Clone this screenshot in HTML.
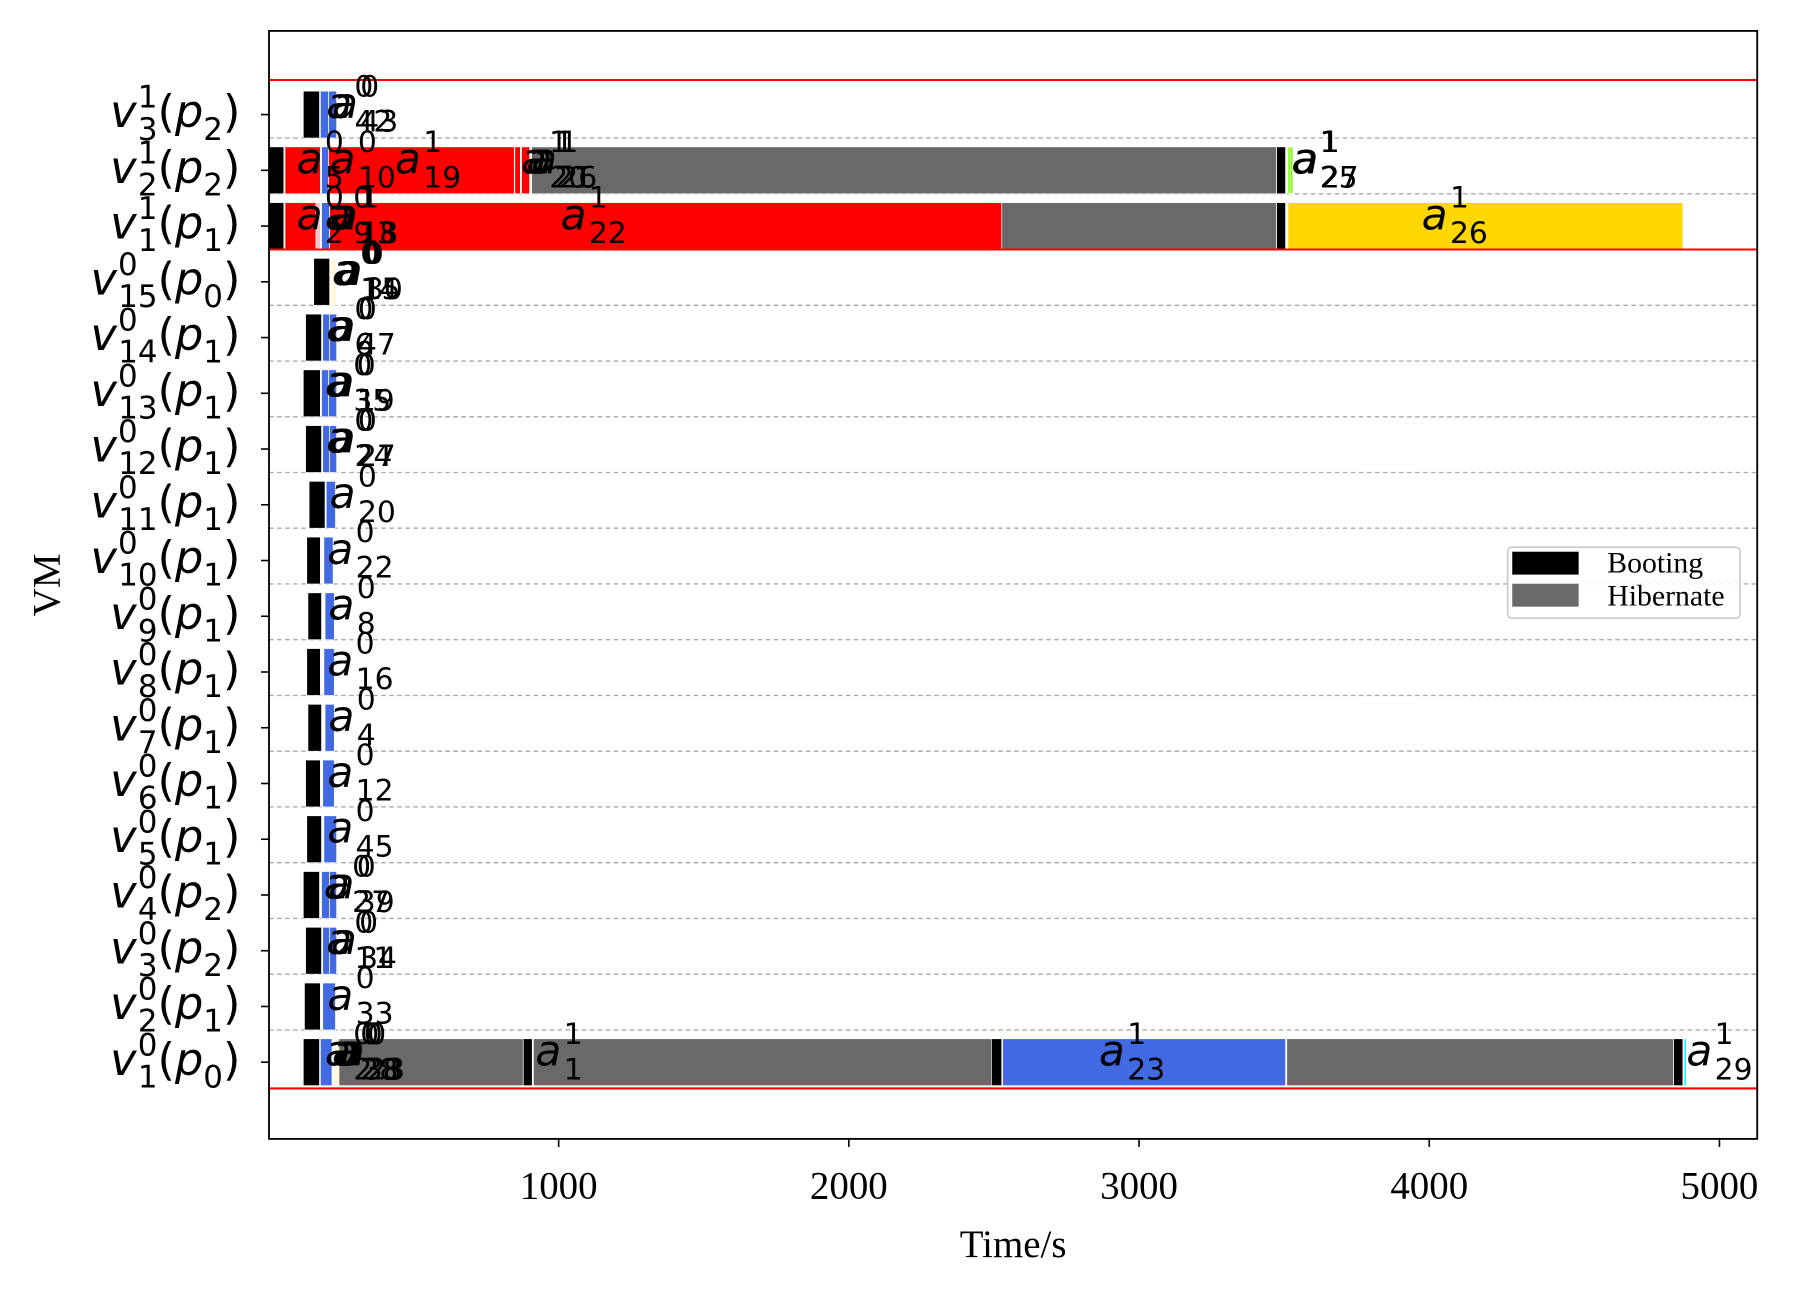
<!DOCTYPE html>
<html><head><meta charset="utf-8"><style>
html,body{margin:0;padding:0;background:#fff;}
svg{display:block;}
</style></head><body>
<svg id="chart" xmlns="http://www.w3.org/2000/svg" width="1795" height="1298" viewBox="0 0 1568 1134" preserveAspectRatio="none"></svg>
<script>
// ---- data ----
const vSub = [1,2,3,4,5,6,7,8,9,10,11,12,13,14,15,1,2,3];
const vSup = [0,0,0,0,0,0,0,0,0,0,0,0,0,0,0,1,1,1];
const pSub = [0,1,2,2,1,1,1,1,1,1,1,1,1,1,0,1,2,2];
const xTicks = [1000,2000,3000,4000,5000];

const barRow   = [0,0,0,0,0,0,0,0,0,0,0,
  1,1, 2,2,2, 3,3,3, 4,4, 5,5, 6,6, 7,7, 8,8, 9,9, 10,10, 11,11,11, 12,12,12, 13,13,13,
  14,14,
  15,15,15,15,15,15,15,15,
  16,16,16,16,16,16,16,16,16,16,
  17,17,17];
const barStart = [120,179,223,243,878,913,2491,2530,3509,4842,4878,
  124,187, 128,187,211, 120,183,211, 132,191, 128,187, 136,195, 132,191, 136,195, 132,191, 140,199, 128,187,211, 120,183,207, 128,187,211,
  156,215,
  0,57,164,183,211,2527,3474,3513,
  0,57,183,207,849,872,907,3474,3513,3521,
  120,179,207];
const barEnd   = [176,219,243,878,909,2491,2527,3505,4842,4874,4886,
  179,231, 183,211,235, 176,211,235, 183,235, 179,227, 183,227, 179,227, 183,227, 179,223, 195,231, 183,211,235, 179,207,235, 183,211,235,
  211,235,
  53,164,179,211,2527,3474,3505,4874,
  53,179,207,847,868,900,3474,3505,3521,3530,
  176,207,235];
const barKind  = ['boot','blue','silk','hib','boot','hib','boot','blue','hib','boot','cyan',
  'boot','blue', 'boot','blue','blue', 'boot','blue','blue', 'boot','blue', 'boot','blue', 'boot','blue', 'boot','blue', 'boot','blue', 'boot','blue', 'boot','blue', 'boot','blue','blue', 'boot','blue','blue', 'boot','blue','blue',
  'boot','silk',
  'boot','red','pink','blue','red','hib','boot','gold',
  'boot','red','blue','red','red','red','hib','boot','green','green',
  'boot','blue','blue'];

const lblRow  = [17,17, 16,16,16,16,16,16,16,16, 15,15,15,15,15,15, 14,14,14, 13,13, 12,12, 11,11, 10, 9, 8, 7, 6, 5, 4, 3,3, 2,2, 1, 0,0,0,0,0,0,0];
const lblTime = [199,219, 97,211,436,870,889,905,3525,3529, 97,195,211,219,1007,3974, 219,227,235, 199,211, 195,207, 199,211, 211, 203, 207, 203, 207, 203, 203, 191,207, 199,215, 203, 195,219,231,243,920,2862,4886];
const lblSup  = [0,0, 0,0,1,1,1,1,1,1, 0,0,1,1,1,1, 0,0,0, 0,0, 0,0, 0,0, 0, 0, 0, 0, 0, 0, 0, 0,0, 0,0, 0, 0,0,0,0,1,1,1];
const lblSub  = [42,43, 5,10,19,20,21,26,25,27, 2,9,13,18,22,26, 14,15,30, 6,47, 35,19, 24,27, 20, 22, 8, 16, 4, 12, 45, 27,39, 11,34, 33, 2,28,38,23,1,23,29];

const redLineRows = [-0.47, 14.58, 17.62];

// ---- geometry ----
const L=235, R=1535, T=27, B=995;
const X = t => 234.5 + 0.2535*t;
const Y = r => 928 - r*48.7;
const BH = 41;
const colors = {boot:'#000000',hib:'#696969',red:'#ff0000',blue:'#4169e1',gold:'#ffd700',silk:'#fff8dc',green:'#7cfc00',cyan:'#00ffff',pink:'#ffc0cb'};
const NS='http://www.w3.org/2000/svg';
const svg=document.getElementById('chart');
function mk(tag,attrs,parent){const e=document.createElementNS(NS,tag);for(const k in attrs)e.setAttribute(k,attrs[k]);(parent||svg).appendChild(e);return e;}
const MATH='"DejaVu Sans", sans-serif', SERIF='"Liberation Serif", serif';

// grid dashed lines at bottom of bars
const gGrid=mk('g',{});


for(let r=1;r<vSub.length;r++){
  if(r===15) continue;
  const y=Y(r)+BH/2;
  const ln=mk('line',{x1:L,x2:R,y1:y,y2:y,stroke:'#aaaaaa','stroke-width':1.2,'stroke-dasharray':'4,3'},gGrid);
  
  
}
// bars
const gBars=mk('g',{});


for(let i=0;i<barRow.length;i++){
  const x0=X(barStart[i]), x1=X(barEnd[i]);
  const rc=mk('rect',{x:x0,y:Y(barRow[i])-BH/2,width:Math.max(x1-x0,1),height:BH,fill:colors[barKind[i]],stroke:'#ffffff','stroke-width':0.6},gBars);
  
  
}
// red separator lines
for(const rr of redLineRows){
  const y=Y(rr);
  const ln=mk('line',{x1:L,x2:R,y1:y,y2:y,stroke:'#ff0000','stroke-width':1.8});
  
  
}
// task labels
const gL=mk('g',{});


for(let i=0;i<lblRow.length;i++){
  const y=Y(lblRow[i])+3;
  const t=mk('text',{x:X(lblTime[i]),y:y,'font-family':MATH,'font-size':37,fill:'#000'},gL);
  
  
  t.innerHTML='<tspan font-style="italic">a</tspan><tspan font-size="26" dx="2" dy="-19">'+lblSup[i]+'</tspan><tspan font-size="26" dx="-16.5" dy="31">'+lblSub[i]+'</tspan>';
}
// axes frame
const fr=mk('rect',{x:L,y:T,width:R-L,height:B-T,fill:'none',stroke:'#000','stroke-width':1.6});


// y ticks & labels
for(let r=0;r<vSub.length;r++){
  const y=Y(r);
  const tk=mk('line',{x1:L-7,x2:L,y1:y,y2:y,stroke:'#000','stroke-width':1.4});
  
  
  const t=mk('text',{x:210,y:y+11,'text-anchor':'end','font-family':MATH,'font-size':39,fill:'#000'});
  
  
  t.innerHTML='<tspan font-style="italic">v</tspan><tspan font-size="27" dx="1" dy="-17">'+vSup[r]+'</tspan><tspan font-size="27" dx="-17" dy="28">'+vSub[r]+'</tspan><tspan dy="-11">(</tspan><tspan font-style="italic">p</tspan><tspan font-size="27" dy="11">'+pSub[r]+'</tspan><tspan dy="-11">)</tspan>';
}
// x ticks
for(const v of xTicks){
  const x=X(v);
  const tk=mk('line',{x1:x,x2:x,y1:B,y2:B+7,stroke:'#000','stroke-width':1.4});
  
  
  const t=mk('text',{x:x,y:1047,'text-anchor':'middle','font-family':SERIF,'font-size':34,fill:'#000'});
  
  
  t.textContent=v;
}
// axis titles
const xt=mk('text',{x:885,y:1098,'text-anchor':'middle','font-family':SERIF,'font-size':34,fill:'#000'});


xt.textContent='Time/s';
const yt=mk('text',{x:0,y:0,'text-anchor':'middle','font-family':SERIF,'font-size':34,fill:'#000',transform:'translate(52,511) rotate(-90)'});


yt.textContent='VM';
// legend
const lg=mk('g',{});


const lb=mk('rect',{x:1317,y:478,width:203,height:62,rx:4,fill:'#fff','fill-opacity':0.85,stroke:'#cccccc','stroke-width':1.5},lg);


const legItems=[['Booting','#000000',482,500],['Hibernate','#696969',510,529]];
for(const it of legItems){
  const p=mk('rect',{x:1321,y:it[2],width:58,height:20,fill:it[1]},lg);
  
  
  const t=mk('text',{x:1404,y:it[3],'font-family':SERIF,'font-size':26,fill:'#000'},lg);
  
  
  t.textContent=it[0];
}
</script>
</body></html>
